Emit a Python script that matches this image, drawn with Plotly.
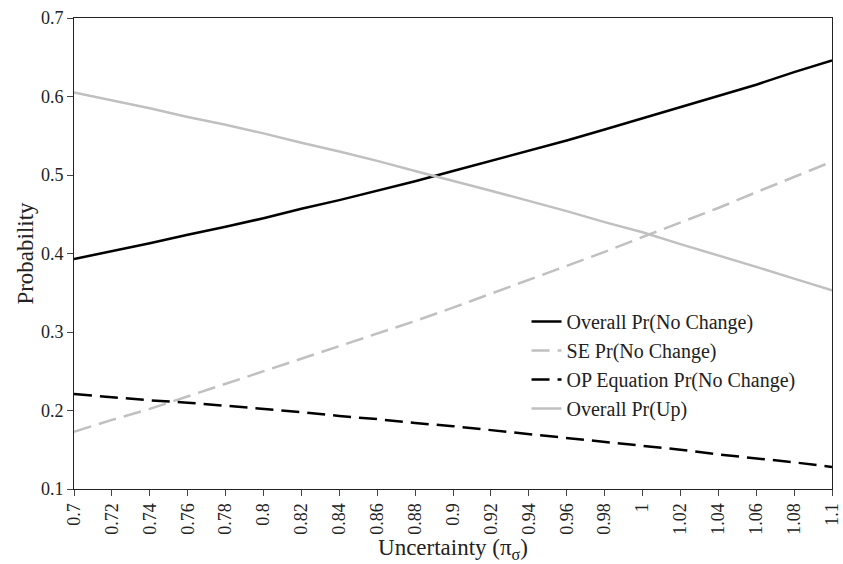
import plotly.graph_objects as go

x_vals = [0.70, 0.72, 0.74, 0.76, 0.78, 0.80, 0.82, 0.84, 0.86, 0.88, 0.90,
          0.92, 0.94, 0.96, 0.98, 1.00, 1.02, 1.04, 1.06, 1.08, 1.10]
overall_no_change = [0.393, 0.403, 0.413, 0.424, 0.434, 0.445, 0.457, 0.468, 0.480, 0.492, 0.505,
                     0.518, 0.531, 0.544, 0.558, 0.572, 0.586, 0.601, 0.615, 0.631, 0.646]
se_no_change = [0.173, 0.188, 0.202, 0.218, 0.233, 0.249, 0.265, 0.281, 0.297, 0.314, 0.331,
                0.349, 0.366, 0.384, 0.402, 0.421, 0.439, 0.458, 0.478, 0.497, 0.517]
op_no_change = [0.221, 0.217, 0.213, 0.210, 0.206, 0.202, 0.198, 0.193, 0.189, 0.184, 0.180,
                0.175, 0.170, 0.165, 0.160, 0.155, 0.150, 0.144, 0.139, 0.134, 0.128]
overall_up = [0.605, 0.595, 0.585, 0.574, 0.564, 0.553, 0.541, 0.530, 0.518, 0.505, 0.493,
              0.480, 0.467, 0.454, 0.440, 0.427, 0.412, 0.398, 0.383, 0.368, 0.353]
x_tick_labels = ["0.7", "0.72", "0.74", "0.76", "0.78", "0.8", "0.82", "0.84", "0.86", "0.88", "0.9",
                 "0.92", "0.94", "0.96", "0.98", "1", "1.02", "1.04", "1.06", "1.08", "1.1"]
y_tick_vals = [0.1, 0.2, 0.3, 0.4, 0.5, 0.6, 0.7]
y_tick_labels = ["0.1", "0.2", "0.3", "0.4", "0.5", "0.6", "0.7"]

FONT = "Liberation Serif, DejaVu Serif, serif"
GRAY = "#c0c0c0"
TXT = "#222"

fig = go.Figure()
fig.add_trace(go.Scatter(x=x_vals, y=overall_no_change, mode="lines",
                         name="Overall Pr(No Change)",
                         line=dict(color="black", width=2.5)))
fig.add_trace(go.Scatter(x=x_vals, y=se_no_change, mode="lines",
                         name="SE Pr(No Change)",
                         line=dict(color=GRAY, width=2.5, dash="18px,8px")))
fig.add_trace(go.Scatter(x=x_vals, y=op_no_change, mode="lines",
                         name="OP Equation Pr(No Change)",
                         line=dict(color="black", width=2.5, dash="18px,8px")))
fig.add_trace(go.Scatter(x=x_vals, y=overall_up, mode="lines",
                         name="Overall Pr(Up)",
                         line=dict(color=GRAY, width=2.5)))

fig.update_layout(
    width=843, height=564,
    margin=dict(l=74, r=11, t=18, b=75),
    paper_bgcolor="white", plot_bgcolor="white",
    font=dict(family=FONT, size=18, color=TXT),
    legend=dict(x=0.597, y=0.397, xanchor="left", yanchor="top",
                bgcolor="rgba(0,0,0,0)", font=dict(family=FONT, size=20, color=TXT),
                tracegroupgap=0, itemwidth=30),
    showlegend=True,
)
fig.update_xaxes(
    range=[0.7, 1.1], tickmode="array", tickvals=x_vals, ticktext=x_tick_labels,
    tickangle=-90, ticks="outside", ticklen=6, tickcolor="#444", tickwidth=1,
    showline=True, linecolor="#222", linewidth=1, mirror=True,
    showgrid=False, zeroline=False, automargin=False,
    tickfont=dict(family=FONT, size=18, color=TXT),
    title=dict(text="Uncertainty (π<sub>σ</sub>)", font=dict(family=FONT, size=23, color=TXT), standoff=0),
)
fig.update_yaxes(
    range=[0.1, 0.7], tickmode="array", tickvals=y_tick_vals, ticktext=y_tick_labels,
    ticks="outside", ticklen=6, tickcolor="#444", tickwidth=1,
    showline=True, linecolor="#222", linewidth=1, mirror=True,
    showgrid=False, zeroline=False, automargin=False,
    tickfont=dict(family=FONT, size=18, color=TXT),
    title=dict(text="Probability", font=dict(family=FONT, size=23, color=TXT), standoff=0),
)

fig.write_html("out.html", config={"displayModeBar": False},
               post_script="document.body.style.margin='0px';")
